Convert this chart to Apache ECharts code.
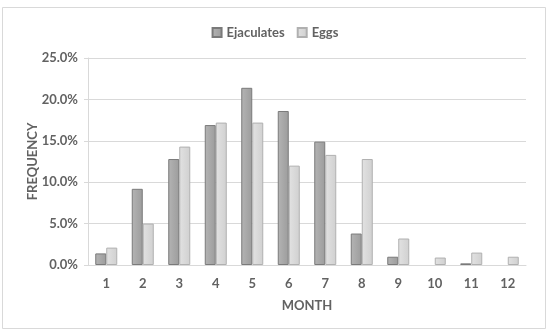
<!DOCTYPE html>
<html><head><meta charset="utf-8">
<script src="https://cdn.jsdelivr.net/npm/echarts@6/dist/echarts.min.js"></script>
<style>html,body{margin:0;padding:0;background:#fff}#c{width:550px;height:336px}</style>
</head><body><div id="c"></div>
<script>
const months = ['1','2','3','4','5','6','7','8','9','10','11','12'];
const ejaculates = [1.4, 9.2, 12.8, 16.9, 21.4, 18.6, 14.9, 3.8, 1.0, null, 0.2, null];
const eggs = [2.1, 5.0, 14.3, 17.2, 17.2, 12.0, 13.3, 12.8, 3.2, 0.9, 1.5, 1.0];
const yTicks = [0, 5, 10, 15, 20, 25];

const font = 'Lato, "Open Sans", sans-serif';
const txt = '#626262';
const chart = echarts.init(document.getElementById('c'), null, {renderer:'canvas'});
chart.setOption({
  animation:false,
  backgroundColor:'#fff',
  graphic:[{type:'rect', shape:{x:2.5,y:7.5,width:543,height:321}, style:{fill:'none', stroke:'#d9d9d9', lineWidth:1}, silent:true}],
  legend:{
    top:21, left:'center', itemWidth:9, itemHeight:9, itemGap:12,
    textStyle:{color:txt, fontFamily:font, fontSize:13, fontWeight:'bold'},
    data:[{name:'Ejaculates', icon:'rect'},{name:'Eggs', icon:'rect'}]
  },
  grid:{left:88, right:24, top:58, bottom:71, containLabel:false},
  xAxis:{
    type:'category', data:months,
    name:'MONTH', nameLocation:'middle', nameGap:34, nameMoveOverlap:false,
    nameTextStyle:{color:txt, fontFamily:font, fontSize:13, fontWeight:'bold'},
    axisLine:{lineStyle:{color:'#d9d9d9', width:1}},
    axisTick:{show:false},
    axisLabel:{color:txt, fontFamily:font, fontSize:13, fontWeight:'bold', margin:12}
  },
  yAxis:{
    type:'value', min:yTicks[0], max:yTicks[yTicks.length-1], interval:5,
    name:'FREQUENCY', nameLocation:'middle', nameGap:49, nameRotate:90, nameMoveOverlap:false,
    nameTextStyle:{color:txt, fontFamily:font, fontSize:13, fontWeight:'bold'},
    axisLine:{show:true, lineStyle:{color:'#d9d9d9'}},
    axisTick:{show:true, length:4, lineStyle:{color:'#d9d9d9'}},
    axisLabel:{color:txt, fontFamily:font, fontSize:13, fontWeight:'bold', margin:10,
      formatter:v=>v.toFixed(1)+'%'},
    splitLine:{lineStyle:{color:'#d9d9d9', width:1}}
  },
  series:[
    {name:'Ejaculates', type:'bar', data:ejaculates, barWidth:11, barGap:'0%',
     itemStyle:{color:new echarts.graphic.LinearGradient(0,0,1,0,[{offset:0,color:'#b4b4b4'},{offset:1,color:'#9c9c9c'}]),
       borderColor:'#7a7a7a', borderWidth:1}},
    {name:'Eggs', type:'bar', data:eggs, barWidth:11, barGap:'0%',
     itemStyle:{color:new echarts.graphic.LinearGradient(0,0,1,0,[{offset:0,color:'#e2e2e2'},{offset:1,color:'#d0d0d0'}]),
       borderColor:'#b0b0b0', borderWidth:1}}
  ]
});
</script></body></html>
